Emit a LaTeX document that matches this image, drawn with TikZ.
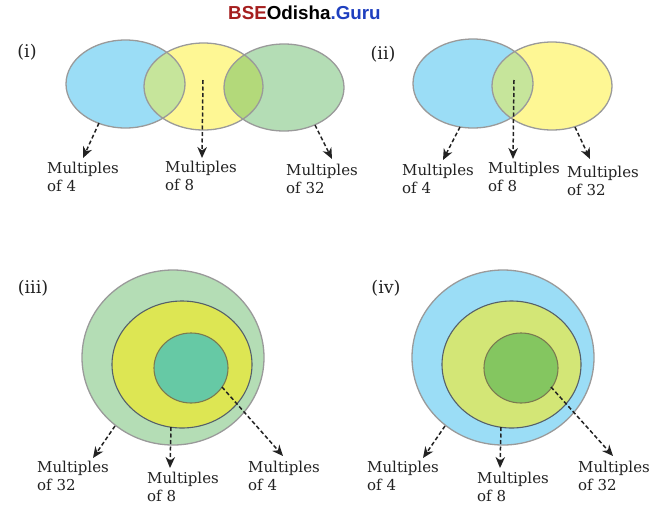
\documentclass[tikz,border=0pt]{standalone}
\usepackage{fontspec}
\setmainfont{DejaVu Serif}
\newfontfamily\hdrfont{Liberation Sans}
\usetikzlibrary{arrows.meta}
\definecolor{cblue}{HTML}{9BDDF6}
\definecolor{cyel}{HTML}{FEF794}
\definecolor{cgrn}{HTML}{B4DDB5}
\definecolor{cby}{HTML}{C6E59B}
\definecolor{cyg}{HTML}{B3D97A}
\definecolor{cmid3}{HTML}{DDE653}
\definecolor{cin3}{HTML}{66C9A5}
\definecolor{cmid4}{HTML}{D3E676}
\definecolor{cin4}{HTML}{84C660}
\definecolor{edgegrey}{HTML}{9A9A9A}
\definecolor{edgedark}{HTML}{55606A}
\definecolor{edgeolive}{HTML}{7A7A50}
\definecolor{bsered}{HTML}{A51E1E}
\definecolor{gurublue}{HTML}{1E3FBF}
\definecolor{inktext}{HTML}{222222}
\tikzset{
  rim/.style={draw=edgegrey, line width=1.3pt},
  rimdark/.style={draw=edgedark, line width=1.1pt},
  rimolive/.style={draw=edgeolive, line width=1.1pt},
  pointer/.style={draw=inktext, line width=1.5pt, dash pattern=on 4pt off 2.5pt, -{Stealth[length=11pt,width=9.5pt,inset=3.5pt]}},
  lbl/.style={anchor=north west, inner sep=0pt, align=left, font=\fontsize{15}{17.5}\selectfont, text=inktext},
  tag/.style={inner sep=0pt, font=\fontsize{17.5}{20}\selectfont, text=inktext}
}
\begin{document}
\begin{tikzpicture}[x=1pt,y=-1pt]
\useasboundingbox (0,0) rectangle (658,517);
% header
\node[inner sep=0pt, anchor=west, font=\hdrfont\bfseries\fontsize{18.8}{21}\selectfont] (hdr) at (228,12.5)
  {\textcolor{bsered}{BSE}Odisha\textcolor{gurublue}{.Guru}};

% ---------- (i) ----------
\node[tag] (t1) at (27,52) {(i)};
\fill[cblue] (125.5,84) ellipse [x radius=59.5, y radius=44];
\fill[cyel] (203.5,86.5) ellipse [x radius=59.5, y radius=43.5];
\fill[cgrn] (284,87.5) ellipse [x radius=60, y radius=43.5];
\begin{scope}
  \clip (125.5,84) ellipse [x radius=59.5, y radius=44];
  \fill[cby] (203.5,86.5) ellipse [x radius=59.5, y radius=43.5];
\end{scope}
\begin{scope}
  \clip (203.5,86.5) ellipse [x radius=59.5, y radius=43.5];
  \fill[cyg] (284,87.5) ellipse [x radius=60, y radius=43.5];
\end{scope}
\draw[rim] (125.5,84) ellipse [x radius=59.5, y radius=44];
\draw[rim] (203.5,86.5) ellipse [x radius=59.5, y radius=43.5];
\draw[rim] (284,87.5) ellipse [x radius=60, y radius=43.5];
\coordinate (a1s) at (99,123);  \coordinate (a1e) at (83,158);
\coordinate (b1s) at (203,80);  \coordinate (b1e) at (202,158);
\coordinate (c1s) at (315,125); \coordinate (c1e) at (332,159);
\draw[pointer] (a1s) -- (a1e);
\draw[pointer] (b1s) -- (b1e);
\draw[pointer] (c1s) -- (c1e);
\node[lbl] (l1a) at (47,162) {Multiples\\of 4};
\node[lbl] (l1b) at (165,161) {Multiples\\of 8};
\node[lbl] (l1c) at (286,164) {Multiples\\of 32};

% ---------- (ii) ----------
\node[tag] (t2) at (383,54) {(ii)};
\fill[cblue] (473,83.5) ellipse [x radius=60, y radius=44.5];
\fill[cyel] (552,86) ellipse [x radius=60, y radius=44];
\begin{scope}
  \clip (473,83.5) ellipse [x radius=60, y radius=44.5];
  \fill[cby] (552,86) ellipse [x radius=60, y radius=44];
\end{scope}
\draw[rim] (473,83.5) ellipse [x radius=60, y radius=44.5];
\draw[rim] (552,86) ellipse [x radius=60, y radius=44];
\coordinate (a2s) at (460,127); \coordinate (a2e) at (443,160);
\coordinate (b2s) at (514,80);  \coordinate (b2e) at (513,159);
\coordinate (c2s) at (575,127); \coordinate (c2e) at (590,159);
\draw[pointer] (a2s) -- (a2e);
\draw[pointer] (b2s) -- (b2e);
\draw[pointer] (c2s) -- (c2e);
\node[lbl] (l2a) at (402,164) {Multiples\\of 4};
\node[lbl] (l2b) at (488,162) {Multiples\\of 8};
\node[lbl] (l2c) at (567,166) {Multiples\\of 32};

% ---------- (iii) ----------
\node[tag] (t3) at (33,288) {(iii)};
\fill[cgrn] (173,357.5) ellipse [x radius=91, y radius=87.5];
\draw[rim] (173,357.5) ellipse [x radius=91, y radius=87.5];
\fill[cmid3] (182,364.5) ellipse [x radius=70, y radius=63.5];
\draw[rimdark] (182,364.5) ellipse [x radius=70, y radius=63.5];
\fill[cin3] (191,368) ellipse [x radius=37, y radius=35];
\draw[rimolive] (191,368) ellipse [x radius=37, y radius=35];
\coordinate (a3s) at (115,426); \coordinate (a3e) at (93,458);
\coordinate (b3s) at (171,427); \coordinate (b3e) at (170,468);
\coordinate (c3s) at (222,387); \coordinate (c3e) at (283,456);
\draw[pointer] (a3s) -- (a3e);
\draw[pointer] (b3s) -- (b3e);
\draw[pointer] (c3s) -- (c3e);
\node[lbl] (l3a) at (37,461) {Multiples\\of 32};
\node[lbl] (l3b) at (147,472) {Multiples\\of 8};
\node[lbl] (l3c) at (248,461) {Multiples\\of 4};

% ---------- (iv) ----------
\node[tag] (t4) at (386,288) {(iv)};
\fill[cblue] (503,357.5) ellipse [x radius=91, y radius=87.5];
\draw[rim] (503,357.5) ellipse [x radius=91, y radius=87.5];
\fill[cmid4] (511.5,364.5) ellipse [x radius=69.5, y radius=63.5];
\draw[rimdark] (511.5,364.5) ellipse [x radius=69.5, y radius=63.5];
\fill[cin4] (521,368) ellipse [x radius=37, y radius=35];
\draw[rimolive] (521,368) ellipse [x radius=37, y radius=35];
\coordinate (a4s) at (445,426); \coordinate (a4e) at (423,458);
\coordinate (b4s) at (501,427); \coordinate (b4e) at (500,468);
\coordinate (c4s) at (551,387); \coordinate (c4e) at (613,456);
\draw[pointer] (a4s) -- (a4e);
\draw[pointer] (b4s) -- (b4e);
\draw[pointer] (c4s) -- (c4e);
\node[lbl] (l4a) at (367,461) {Multiples\\of 4};
\node[lbl] (l4b) at (477,472) {Multiples\\of 8};
\node[lbl] (l4c) at (578,461) {Multiples\\of 32};
\end{tikzpicture}
\end{document}
